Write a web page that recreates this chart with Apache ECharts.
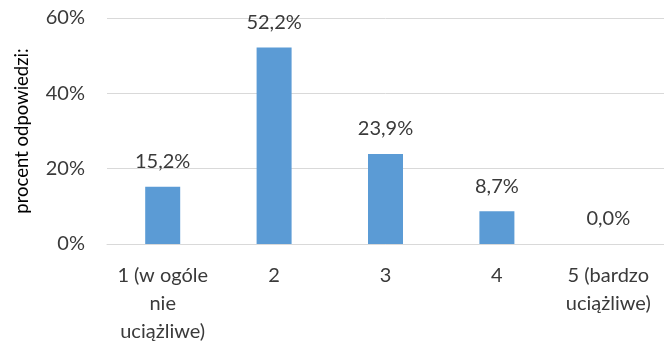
<!DOCTYPE html>
<html>
<head>
<meta charset="utf-8">
<script src="https://cdn.jsdelivr.net/npm/echarts@6/dist/echarts.min.js"></script>
<style>
  html, body { margin: 0; padding: 0; background: #ffffff; }
  #chart { width: 664px; height: 347px; }
</style>
</head>
<body>
<div id="chart"></div>
<script>
// Answer categories on the 1–5 scale
const categories = ['1 (w ogóle\nnie\nuciążliwe)', '2', '3', '4', '5 (bardzo\nuciążliwe)'];
// Share of answers, percent
const percentValues = [15.2, 52.2, 23.9, 8.7, 0.0];
// Value axis range
const yMin = 0;
const yMax = 60;
const yStep = 20;
const yTitle = 'procent odpowiedzi:';

const textColor = '#3a3a3a';
const fontFamily = 'Lato, "Open Sans", sans-serif';

const chart = echarts.init(document.getElementById('chart'), null, { renderer: 'canvas' });
chart.setOption({
  animation: false,
  grid: { left: 107, right: 0, top: 18, bottom: 103, containLabel: false },
  xAxis: {
    type: 'category',
    data: categories,
    axisLine: { show: true, lineStyle: { color: '#d9d9d9', width: 1 } },
    axisTick: { show: false },
    axisLabel: {
      interval: 0,
      margin: 18,
      color: textColor,
      fontFamily: fontFamily,
      fontSize: 20,
      lineHeight: 28
    }
  },
  yAxis: {
    type: 'value',
    min: yMin,
    max: yMax,
    interval: yStep,
    name: yTitle,
    nameLocation: 'middle',
    nameGap: 75,
    nameTextStyle: { color: '#000000', fontFamily: fontFamily, fontSize: 18.5 },
    axisLine: { show: false },
    axisTick: { show: false },
    splitLine: { lineStyle: { color: '#d9d9d9', width: 1 } },
    axisLabel: {
      margin: 22,
      color: textColor,
      fontFamily: fontFamily,
      fontSize: 20,
      formatter: '{value}%'
    }
  },
  series: [{
    type: 'bar',
    data: percentValues,
    barWidth: 35,
    itemStyle: { color: '#5b9bd5' },
    label: {
      show: true,
      position: 'top',
      distance: 15,
      color: textColor,
      fontFamily: fontFamily,
      fontSize: 20,
      formatter: p => p.value.toFixed(1).replace('.', ',') + '%'
    }
  }]
});
</script>
</body>
</html>
